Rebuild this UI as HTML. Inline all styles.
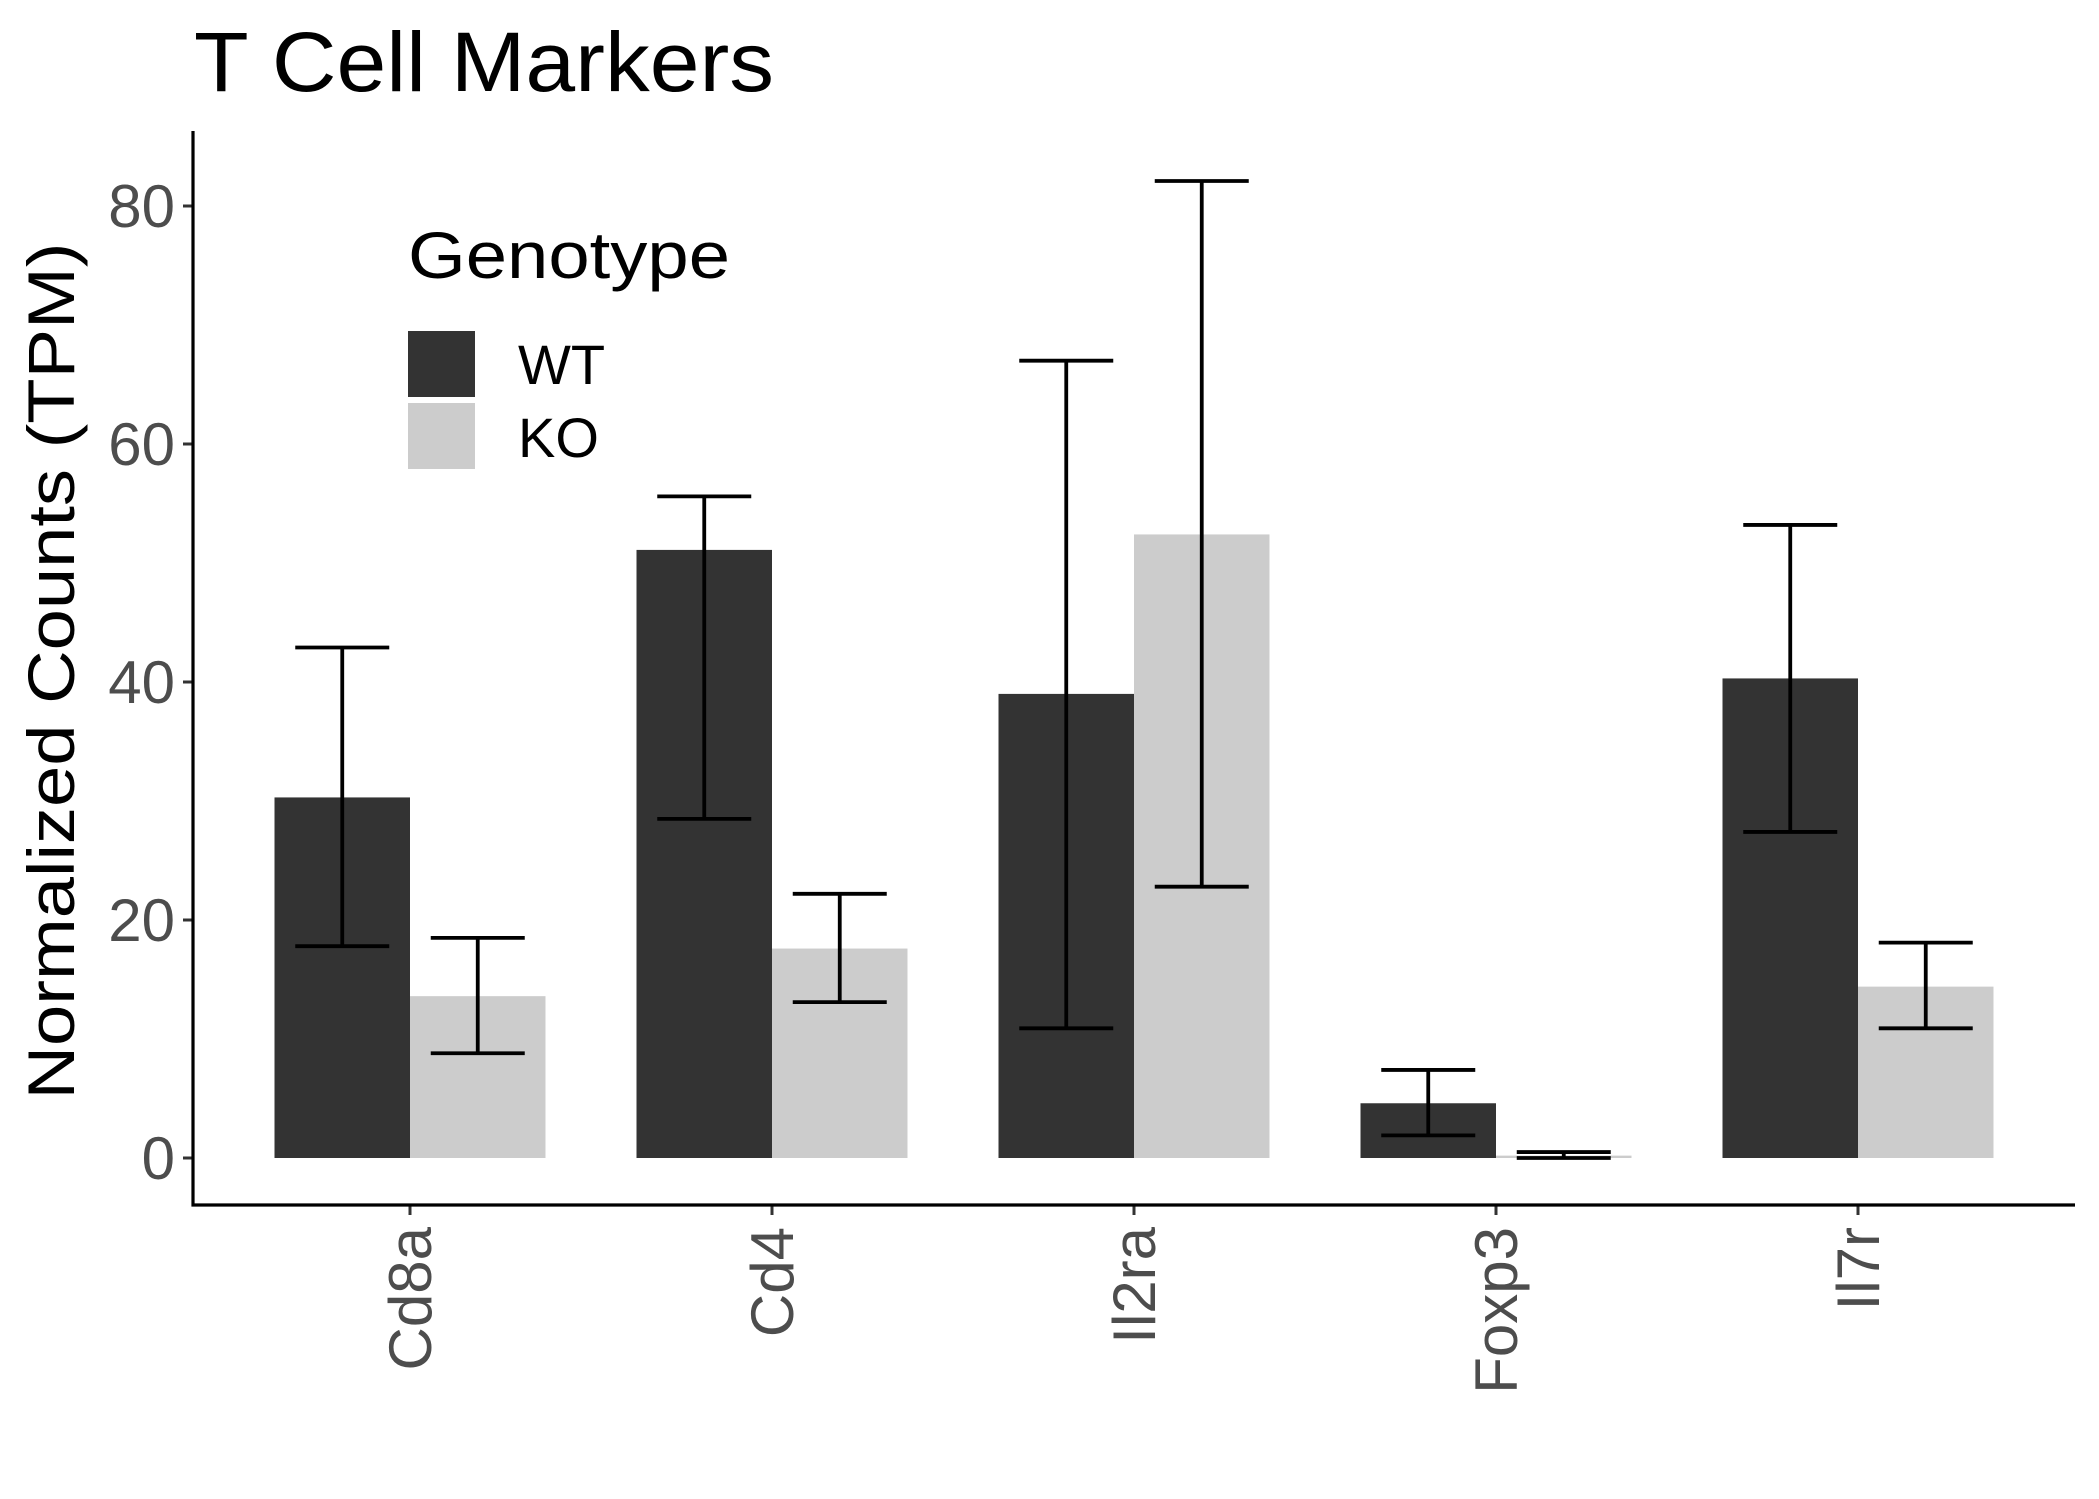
<!DOCTYPE html>
<html><head><meta charset="utf-8"><style>body{margin:0;background:#fff}svg{display:block;font-family:"Liberation Sans",Arial,sans-serif}</style></head>
<body>
<svg id="chart" width="2099" height="1499" viewBox="0 0 2099 1499">
<text x="194" y="91" font-size="84" textLength="580" lengthAdjust="spacingAndGlyphs" fill="#000">T Cell Markers</text>
<text transform="translate(74,671) rotate(-90)" text-anchor="middle" font-size="66" textLength="857" lengthAdjust="spacingAndGlyphs" fill="#000">Normalized Counts (TPM)</text>
<g id="plot"></g>
<g>
<text x="408" y="278" font-size="66" textLength="322" lengthAdjust="spacingAndGlyphs" fill="#000">Genotype</text>
<rect x="408" y="331" width="67" height="66" fill="#333"/>
<rect x="408" y="403" width="67" height="66" fill="#ccc"/>
<text x="518" y="384" font-size="56" fill="#000">WT</text>
<text x="518" y="457" font-size="56" fill="#000">KO</text>
</g>
</svg>
<script>
const categories = ["Cd8a","Cd4","Il2ra","Foxp3","Il7r"];
const wtValues = [30.3, 51.1, 39.0, 4.6, 40.3];
const wtLow = [17.8, 28.5, 10.9, 1.9, 27.4];
const wtHigh = [42.9, 55.6, 67.0, 7.4, 53.2];
const koValues = [13.6, 17.6, 52.4, 0.2, 14.4];
const koLow = [8.8, 13.1, 22.8, 0.0, 10.9];
const koHigh = [18.5, 22.2, 82.1, 0.5, 18.1];
const yTicks = [0, 20, 40, 60, 80];

const NS = "http://www.w3.org/2000/svg";
const g = document.getElementById("plot");
const X0 = 193, X1 = 2075, Y0 = 1158, PX = 11.9, AXY = 1205, TOP = 131;
const step = 362;
function xc(i){ return 410 + i*step; }
function y(v){ return Y0 - v*PX; }
const bw = 135.5, cap = 94;
function mk(tag, attrs){ const e = document.createElementNS(NS, tag); for (const k in attrs) e.setAttribute(k, attrs[k]); g.appendChild(e); return e; }

categories.forEach((c, i) => {
  const series = [[wtValues, wtLow, wtHigh, "#333", "wt", xc(i)-bw], [koValues, koLow, koHigh, "#ccc", "ko", xc(i)]];
  series.forEach(s => {
    const v = s[0][i];
    const r = mk("rect", {x: s[5], y: y(v), width: bw, height: Math.max(1.5, v*PX), fill: s[3]});
    
    
  });
  series.forEach(s => {
    const cx = s[5] + bw/2, lo = y(s[1][i]), hi = y(s[2][i]);
    const e = mk("path", {d: `M${cx-cap/2},${hi}H${cx+cap/2}M${cx},${hi}V${lo}M${cx-cap/2},${lo}H${cx+cap/2}`, stroke: "#000", "stroke-width": 3.8, fill: "none"});
    
    
  });
  const t = mk("line", {x1: xc(i), x2: xc(i), y1: AXY, y2: AXY+10, stroke: "#333", "stroke-width": 3});
  
  
  const l = mk("text", {transform: `translate(${xc(i)+21},${AXY+22}) rotate(-90)`, "text-anchor": "end", "font-size": 60, fill: "#4d4d4d"});
  l.textContent = c;
  
  
});
yTicks.forEach(v => {
  const t = mk("line", {x1: X0-10, x2: X0, y1: y(v), y2: y(v), stroke: "#333", "stroke-width": 3});
  
  
  const l = mk("text", {x: X0-18, y: y(v)+21, "text-anchor": "end", "font-size": 60, fill: "#4d4d4d"});
  l.textContent = v;
  
  
});
const ya = mk("line", {x1: X0, x2: X0, y1: TOP, y2: AXY+1.5, stroke: "#000", "stroke-width": 3.2});


const xa = mk("line", {x1: X0-1.5, x2: X1, y1: AXY, y2: AXY, stroke: "#000", "stroke-width": 3.2});


</script>
</body></html>
